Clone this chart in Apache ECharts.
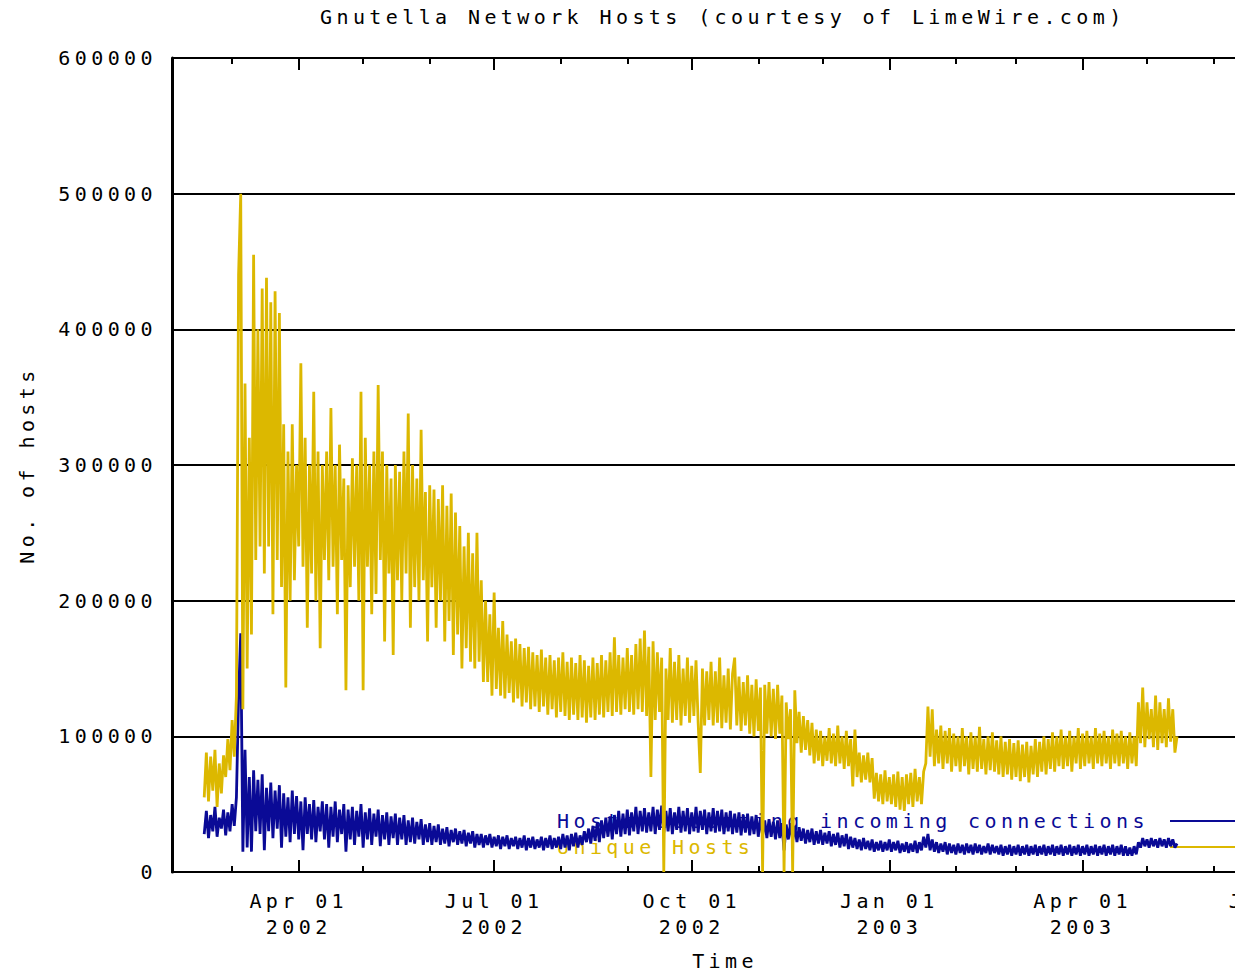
<!DOCTYPE html>
<html><head><meta charset="utf-8">
<script src="https://cdn.jsdelivr.net/npm/echarts@6/dist/echarts.min.js"></script>
<style>
html,body{margin:0;padding:0;background:#fff;}
#chart{width:1235px;height:972px;}
#chart svg text{letter-spacing:4.4px;}
</style></head><body><div id="chart"></div>
<script>
// ---- data (values in thousands of hosts, one reading per day from 2002-02-16) ----
const titleText = 'Gnutella Network Hosts (courtesy of LimeWire.com)';
const seriesNames = ['Hosts accepting incoming connections', 'Unique Hosts'];
const firstDay = '2002-02-16';
const axisStart = '2002-02-01';
const axisEnd = '2003-07-01';
const majorTicks = ['2002-04-01','2002-07-01','2002-10-01','2003-01-01','2003-04-01','2003-07-01'];
const majorTickLabels = ['Apr 01\n2002','Jul 01\n2002','Oct 01\n2002','Jan 01\n2003','Apr 01\n2003','Jul 01\n2003'];
const minorTicks = ['2002-03-01','2002-05-01','2002-06-01','2002-08-01','2002-09-01','2002-11-01','2002-12-01',
  '2003-02-01','2003-03-01','2003-05-01','2003-06-01'];
const yTicks = [0,100000,200000,300000,400000,500000,600000];

const hostsK = [
28,45,25,42,30,48,26,40,32,46, 27,44,30,50,34,55,129,176,15,90,
18,70,15,75,30,68,28,72,16,62, 30,66,25,60,32,64,18,58,26,55,
22,60,28,56,24,52,16,55,28,50, 24,53,22,48,30,52,24,50,18,48,
26,52,22,46,28,50,15,46,24,48, 20,45,26,50,18,44,24,47,20,43,
26,46,19,42,24,44,20,41,25,43, 20,40,24,42,20,38,22,40,21,37,
24,39,20,35,22,36,20,34,22,35, 20,32,21,33,19,31,22,32,20,30,
21,31,19,29,21,30,18,28,20,28, 18,27,20,28,18,26,19,27,17,26,
19,27,17,25,19,26,17,25,18,27, 16,25,18,26,17,24,18,26,16,25,
18,27,17,25,18,26,17,28,18,27, 16,28,19,29,18,27,20,30,22,32,
21,34,23,36,22,38,25,40,26,41, 24,42,28,45,26,43,28,46,27,44,
30,48,28,45,30,47,29,44,30,48, 28,46,31,49,29,45,30,47,28,44,
31,48,29,45,30,47,28,44,30,48, 29,45,31,46,28,44,30,47,29,45,
30,46,28,44,30,45,28,43,29,44, 27,42,29,43,27,41,28,42,26,40,
27,38,25,39,26,37,24,38,25,36, 16,35,24,36,23,34,22,33,23,32,
21,31,22,32,20,30,21,31,20,29, 21,30,19,28,20,29,18,27,19,28,
17,26,18,25,17,24,16,25,17,23, 16,24,15,22,16,23,15,22,16,24,
15,22,16,23,14,21,15,22,14,21, 15,23,14,22,16,26,18,28,16,24,
15,22,14,21,15,22,13,21,14,20, 13,21,14,20,13,21,14,20,13,21,
14,20,13,19,14,21,13,20,14,19, 13,20,12,19,13,20,12,19,13,20,
12,19,13,20,12,19,13,20,12,19, 13,20,12,19,13,20,12,19,13,20,
12,19,13,20,12,19,13,20,12,19, 13,20,12,19,13,20,12,19,13,20,
12,19,13,20,12,19,13,20,12,19, 12,18,12,19,13,22,18,25,19,24,
18,25,19,24,18,25,19,24,18,25, 19,24,18,21
];

const uniqueK = [
55,88,52,85,60,90,48,80,58,86, 70,98,75,112,85,130,440,500,120,360,
150,320,175,455,230,400,240,430,220,438, 240,420,190,428,230,412,210,330,136,310,
200,330,215,300,240,375,225,320,180,300, 220,354,200,310,165,300,230,310,215,342,
225,300,190,315,230,290,134,285,210,305, 225,300,200,354,134,320,225,300,190,310,
205,359,230,310,170,300,220,290,160,300, 215,295,200,310,220,338,180,300,210,290,
200,326,215,280,170,285,210,282,180,275, 200,285,170,270,185,279,160,265,175,255,
150,240,165,250,155,235,150,250,155,215, 140,200,140,190,130,206,135,180,130,185,
128,175,132,170,125,172,128,168,122,165, 125,166,120,162,122,160,118,164,122,158,
116,160,120,156,114,158,118,162,115,155, 112,158,116,154,112,160,114,156,110,152,
114,158,112,154,116,160,114,156,118,162, 115,173,118,160,116,158,120,165,118,160,
116,168,120,172,118,178,115,166,70,170, 112,162,118,158,0,150,112,165,110,155,
112,160,108,150,115,158,110,152,115,156, 110,73,150,108,148,112,155,108,148,110,
158,106,145,110,150,105,146,158,108,144, 104,140,108,145,102,138,100,142,104,136,
0,138,102,140,100,135,98,138,102,130, 0,125,98,120,0,134,95,118,88,115,
90,112,86,110,80,105,82,104,78,100, 82,106,80,102,78,108,80,100,76,104,
78,98,63,105,70,88,66,86,68,88, 66,84,54,73,52,72,50,75,52,70,
50,72,48,74,46,70,45,72,50,73, 48,76,52,70,50,74,80,122,85,120,
78,105,80,108,76,104,80,106,74,102, 78,100,74,106,78,100,72,103,76,100,
74,107,76,98,72,100,75,103,74,97, 72,100,70,96,72,98,68,95,70,97,
67,94,70,96,66,93,72,98,70,96, 74,100,72,98,76,103,74,100,78,105,
76,100,78,104,74,100,80,106,76,102, 78,104,80,100,76,106,80,102,78,104,
80,100,76,105,80,102,78,104,80,100, 76,103,80,100,78,125,95,136,92,125,
98,120,92,130,90,125,95,120,92,128, 96,120,88,100
];

// ---- helpers ----
const DAY = 86400000;
function dateMs(s){ const p = s.split('-').map(Number); return Date.UTC(p[0], p[1]-1, p[2]); }
const t0 = dateMs(firstDay);
function toSeries(arr){ return arr.map((v,i)=>[t0 + i*DAY, v*1000]); }
const majorMs = majorTicks.map(dateMs);
const minorMs = minorTicks.map(dateMs);

const FONT = '"DejaVu Sans Mono", monospace';
const FS = 20;
const BLUE = '#0a0a96';
const YELLOW = '#dcb800';
const txt = {fontFamily: FONT, fontSize: FS, color: '#000', fontWeight: 'normal'};

const chart = echarts.init(document.getElementById('chart'), null, {renderer: 'svg', width: 1235, height: 972});
const xMin = dateMs(axisStart), xMax = dateMs(axisEnd);
const baseX = {type: 'value', min: xMin, max: xMax, splitLine: {show: false}};

chart.setOption({
  animation: false,
  backgroundColor: '#fff',
  title: {text: titleText, left: 315, top: 2, textStyle: Object.assign({}, txt)},
  legend: {
    orient: 'vertical', left: 557, top: 810, padding: 0, itemWidth: 80, itemHeight: 2, itemGap: 4,
    icon: 'rect', align: 'right', selectedMode: false, z: 1,
    formatter: function(name){ return '{t|' + name + '}'; },
    textStyle: {fontFamily: FONT, fontSize: FS, lineHeight: 22,
      rich: {t: {width: 608, align: 'left', fontFamily: FONT, fontSize: FS, lineHeight: 22}}},
    data: [
      {name: seriesNames[0], textStyle: {color: BLUE}},
      {name: seriesNames[1], textStyle: {color: YELLOW}}
    ]
  },
  grid: {left: 172, top: 58, width: 1106, height: 814, show: false, containLabel: false, outerBoundsMode: 'none'},
  xAxis: [
    Object.assign({}, baseX, {
      position: 'bottom',
      axisLine: {show: true, onZero: false, lineStyle: {color: '#000', width: 2}},
      axisTick: {show: true, inside: true, length: 12, lineStyle: {color: '#000', width: 2}, customValues: majorMs},
      axisLabel: {show: true, customValues: majorMs, margin: 16, lineHeight: 26, hideOverlap: false,
        fontFamily: FONT, fontSize: FS, color: '#000',
        formatter: function(v){ const i = majorMs.indexOf(v); return i >= 0 ? majorTickLabels[i] : ''; }},
      name: 'Time', nameLocation: 'middle', nameGap: 79, nameTextStyle: Object.assign({}, txt)
    }),
    Object.assign({}, baseX, {
      position: 'bottom',
      axisLine: {show: false},
      axisTick: {show: true, inside: true, length: 6, lineStyle: {color: '#000', width: 2}, customValues: minorMs},
      axisLabel: {show: false}
    }),
    Object.assign({}, baseX, {
      position: 'top',
      axisLine: {show: false},
      axisTick: {show: true, inside: true, length: 12, lineStyle: {color: '#000', width: 2}, customValues: majorMs},
      axisLabel: {show: false}
    }),
    Object.assign({}, baseX, {
      position: 'top',
      axisLine: {show: false},
      axisTick: {show: true, inside: true, length: 6, lineStyle: {color: '#000', width: 2}, customValues: minorMs},
      axisLabel: {show: false}
    })
  ],
  yAxis: {
    type: 'value', min: 0, max: 600000, interval: 100000,
    axisLine: {show: true, lineStyle: {color: '#000', width: 3}},
    axisTick: {show: false},
    splitLine: {show: true, lineStyle: {color: '#000', width: 2}},
    axisLabel: {margin: 15, fontFamily: FONT, fontSize: FS, color: '#000',
      customValues: yTicks, formatter: function(v){ return String(v); }},
    name: 'No. of hosts', nameLocation: 'middle', nameGap: 135, nameRotate: 90,
    nameTextStyle: Object.assign({}, txt)
  },
  series: [
    {name: seriesNames[0], type: 'line', data: toSeries(hostsK), showSymbol: false, symbol: 'none',
      color: BLUE, lineStyle: {color: BLUE, width: 2.8, join: 'bevel'}, z: 5, sampling: null},
    {name: seriesNames[1], type: 'line', data: toSeries(uniqueK), showSymbol: false, symbol: 'none',
      color: YELLOW, lineStyle: {color: YELLOW, width: 2.8, join: 'bevel'}, z: 6, sampling: null}
  ]
});
</script></body></html>
